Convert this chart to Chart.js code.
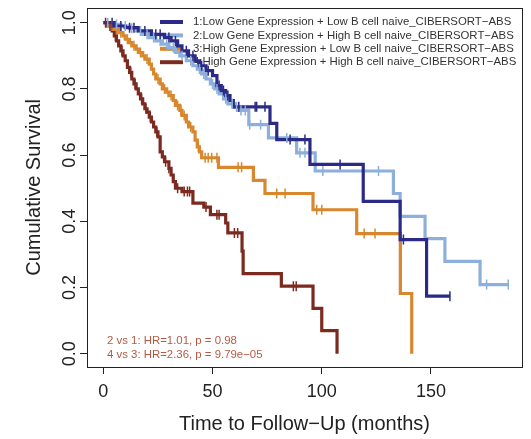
<!DOCTYPE html>
<html>
<head>
<meta charset="utf-8">
<script src="https://cdn.jsdelivr.net/npm/chart.js@4.4.0/dist/chart.umd.min.js"></script>
<style>
  body { margin: 0; background: #fff; }
  #wrap { width: 531px; height: 439px; }
</style>
</head>
<body>
<div id="wrap"><canvas id="km" width="531" height="439"></canvas></div>
<script>
const seriesNames = [
  '1:Low Gene Expression + Low B cell naive_CIBERSORT\u2212ABS',
  '2:Low Gene Expression + High B cell naive_CIBERSORT\u2212ABS',
  '3:High Gene Expression + Low B cell naive_CIBERSORT\u2212ABS',
  '4:High Gene Expression + High B cell naive_CIBERSORT\u2212ABS'
];
const seriesColors = ['#2b2b87', '#8cb0da', '#d8872c', '#7c2a20'];

// step times (months) and survival after each step, plus censored times
const lowLowTime = [0, 5, 10, 16, 22, 28, 31, 34, 36, 39, 42, 44, 47, 50, 52, 54, 56, 58, 59.5, 76.3, 79.4, 94.6, 119, 135.9, 148, 158.7];
const lowLowSurv = [1, 0.99, 0.985, 0.975, 0.965, 0.955, 0.945, 0.93, 0.915, 0.9, 0.885, 0.87, 0.855, 0.84, 0.81, 0.795, 0.78, 0.765, 0.746, 0.696, 0.647, 0.572, 0.46, 0.345, 0.174, 0.174];
const lowLowCensor = [4, 8, 12, 14, 19, 24, 26, 30, 33, 38, 41, 45, 48, 53, 55, 57, 62, 69.5, 70.2, 74, 85.5, 92.3, 108.4, 137.4, 158.7];

const lowHighTime = [0, 4, 8, 12, 15, 18, 21, 24, 27, 30, 33, 35, 38, 41, 43, 45, 47, 49, 51, 53, 55, 57, 60, 62, 66.6, 75.6, 88.5, 97, 132.8, 135.9, 147.3, 156.4, 172.5, 185.4];
const lowHighSurv = [1, 0.995, 0.99, 0.983, 0.975, 0.965, 0.955, 0.945, 0.935, 0.925, 0.91, 0.9, 0.885, 0.87, 0.86, 0.845, 0.83, 0.815, 0.8, 0.785, 0.77, 0.755, 0.745, 0.735, 0.692, 0.652, 0.607, 0.552, 0.484, 0.415, 0.348, 0.279, 0.209, 0.209];
const lowHighCensor = [2, 6, 10, 13, 17, 20, 23, 26, 29, 32, 36, 40, 44, 46, 50, 52, 56, 59, 61, 63, 65, 67, 72, 84, 90, 92.3, 100.5, 126, 175.5, 185.4];

const highLowTime = [0, 3, 5, 7, 9, 10, 12, 13, 15, 16, 18, 19, 21, 22, 23, 24, 26, 27, 29, 30, 32, 33, 35, 36, 38, 39, 41, 42, 43, 44, 45, 52.7, 68.7, 74, 96, 116, 136, 141.2];
const highLowSurv = [1, 0.99, 0.98, 0.97, 0.96, 0.95, 0.94, 0.93, 0.92, 0.91, 0.9, 0.89, 0.875, 0.86, 0.845, 0.83, 0.815, 0.8, 0.79, 0.78, 0.765, 0.75, 0.735, 0.72, 0.7, 0.685, 0.67, 0.645, 0.625, 0.61, 0.592, 0.563, 0.524, 0.484, 0.435, 0.363, 0.182, 0];
const highLowCensor = [4, 6, 8, 11, 14, 17, 20, 25, 28, 31, 34, 35.5, 37, 40, 43.5, 46.6, 48, 49.6, 52, 61.7, 63.3, 79.4, 83.2, 97.7, 100, 119.4, 124.4];

const highHighTime = [0, 2, 4, 5, 6, 7, 8, 9, 10, 11, 12, 13, 14, 15, 16, 17, 18, 19, 20, 21, 22, 23, 24, 25, 26, 27, 28, 30, 31, 32, 33, 36, 41, 46, 49, 56, 57, 63.5, 64, 81.5, 96, 100, 107];
const highHighSurv = [1, 0.99, 0.975, 0.96, 0.945, 0.93, 0.915, 0.9, 0.885, 0.865, 0.85, 0.83, 0.815, 0.8, 0.785, 0.77, 0.755, 0.74, 0.73, 0.715, 0.7, 0.685, 0.67, 0.655, 0.61, 0.595, 0.58, 0.56, 0.54, 0.52, 0.5, 0.49, 0.455, 0.443, 0.42, 0.395, 0.365, 0.31, 0.242, 0.204, 0.137, 0.07, 0];
const highHighCensor = [1, 3, 5.5, 8.5, 12.5, 14.5, 17.5, 19.5, 21.5, 24.5, 28.5, 30, 34, 37, 38.5, 39.5, 47, 52, 53, 60, 61.5, 87, 88.3];

const xTicks = [0, 50, 100, 150];
const yTicks = [0, 0.2, 0.4, 0.6, 0.8, 1.0];
const yTickLabels = ['0.0', '0.2', '0.4', '0.6', '0.8', '1.0'];
const statLines = ['2 vs 1: HR=1.01, p = 0.98', '4 vs 3: HR=2.36, p = 9.79e\u221205'];

const FONT = '"Liberation Sans", Arial, Helvetica, sans-serif';

function survAt(times, surv, t) {
  let s = surv[0];
  for (let i = 0; i < times.length; i++) {
    if (times[i] <= t) s = surv[i];
  }
  return s;
}

const groups = [
  [lowLowTime, lowLowSurv, lowLowCensor],
  [lowHighTime, lowHighSurv, lowHighCensor],
  [highLowTime, highLowSurv, highLowCensor],
  [highHighTime, highHighSurv, highHighCensor]
];

const datasets = [];
groups.forEach((g, i) => {
  const [times, surv, cens] = g;
  datasets.push({
    label: seriesNames[i],
    data: times.map((t, k) => ({x: t, y: surv[k]})),
    borderColor: seriesColors[i],
    borderWidth: 3.2,
    stepped: 'before',
    pointRadius: 0,
    fill: false,
    order: 10 + i
  });
  datasets.push({
    label: seriesNames[i] + ' censored',
    data: cens.map(t => ({x: t, y: survAt(times, surv, t)})),
    showLine: false,
    pointStyle: 'line',
    rotation: 90,
    pointRadius: 5,
    pointBorderWidth: 1.5,
    borderColor: seriesColors[i],
    backgroundColor: seriesColors[i],
    order: i
  });
});

const kmDecor = {
  id: 'kmDecor',
  beforeDatasetsDraw(chart) {
    const ctx = chart.ctx;
    ctx.save();
    ctx.font = '11.4px ' + FONT;
    ctx.textBaseline = 'middle';
    seriesNames.forEach((name, i) => {
      const y = 22 + i * 13.4;
      ctx.strokeStyle = seriesColors[i];
      ctx.lineWidth = 4;
      ctx.beginPath();
      ctx.moveTo(160, y);
      ctx.lineTo(183, y);
      ctx.stroke();
      ctx.fillStyle = '#333';
      ctx.fillText(name, 193, y);
    });
    ctx.fillStyle = '#b45a44';
    statLines.forEach((s, i) => ctx.fillText(s, 107, 341 + i * 13.4));
    ctx.restore();
  },
  afterDraw(chart) {
    const a = chart.chartArea;
    const ctx = chart.ctx;
    ctx.save();
    ctx.strokeStyle = '#222';
    ctx.lineWidth = 1;
    ctx.strokeRect(Math.round(a.left) + 0.5, Math.round(a.top) + 0.5, Math.round(a.right - a.left), Math.round(a.bottom - a.top));
    ctx.restore();
  }
};

new Chart(document.getElementById('km'), {
  type: 'line',
  data: { datasets },
  options: {
    responsive: false,
    animation: false,
    layout: { padding: { top: 5, right: 9, left: 0, bottom: 0 } },
    plugins: { legend: { display: false }, tooltip: { enabled: false } },
    scales: {
      x: {
        type: 'linear',
        min: -7.5,
        max: 191.7,
        afterBuildTicks: s => { s.ticks = xTicks.map(v => ({value: v})); },
        afterFit: s => { s.height = 72; },
        grid: { display: true, drawOnChartArea: false, tickLength: 7, color: '#222' },
        border: { display: false },
        ticks: { color: '#222', font: { family: FONT, size: 18 }, padding: 7, maxRotation: 0 },
        title: { display: true, text: 'Time to Follow\u2212Up (months)', color: '#222', font: { family: FONT, size: 20 }, padding: { top: 0, bottom: 3 } }
      },
      y: {
        type: 'linear',
        min: -0.04,
        max: 1.045,
        afterBuildTicks: s => { s.ticks = yTicks.map(v => ({value: v})); },
        afterFit: s => { s.width = 87; },
        grid: { display: true, drawOnChartArea: false, tickLength: 7, color: '#222' },
        border: { display: false },
        ticks: {
          color: '#222',
          font: { family: FONT, size: 18 },
          minRotation: 90,
          maxRotation: 90,
          crossAlign: 'center',
          padding: -3,
          callback: (v) => yTickLabels[yTicks.indexOf(v)]
        },
        title: { display: true, text: 'Cumulative Survival', color: '#222', font: { family: FONT, size: 20 }, padding: { top: 22, bottom: 0 } }
      }
    }
  },
  plugins: [kmDecor]
});
</script>
</body>
</html>
